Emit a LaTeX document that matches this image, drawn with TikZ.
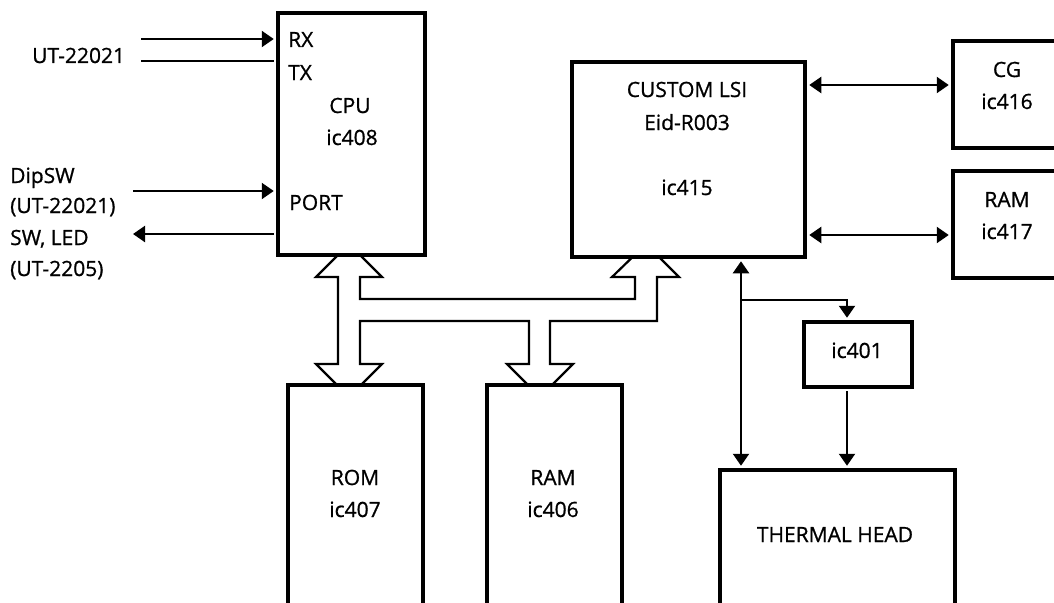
\documentclass[tikz,border=0pt]{standalone}
\usepackage{fontspec}
\setmainfont{Open Sans}[FakeBold=0.9]
\usetikzlibrary{arrows.meta}
\begin{document}
\begin{tikzpicture}[x=1pt,y=-1pt,
  box/.style={draw,line width=4.5pt,fill=white,inner sep=0pt},
  lbl/.style={inner sep=0pt,font=\fontsize{21}{25}\selectfont},
  conn/.style={line width=2.2pt,shorten >=2pt,shorten <=2pt},
  tip/.style={-{Triangle[length=12pt,width=16pt]}},
  both/.style={{Triangle[length=12pt,width=16pt]}-{Triangle[length=12pt,width=16pt]}},
  bus/.style={draw,line width=2.2pt,fill=white,line join=miter}]
\useasboundingbox (0,0) rectangle (1054,602);
\clip (0,0) rectangle (1054,602);
\fill[white] (0,0) rectangle (1054,602);

% data bus (hollow arrows)
\draw[bus] (349,244) -- (382,277) -- (360,277) -- (360,299) -- (635,299) -- (635,277)
  -- (612,277) -- (646,244) -- (679,277) -- (657,277) -- (657,321) -- (550,321)
  -- (550,364) -- (573,364) -- (540,397) -- (507,364) -- (529,364) -- (529,321)
  -- (360,321) -- (360,364) -- (382,364) -- (349,397) -- (316,364) -- (338,364)
  -- (338,277) -- (316,277) -- cycle;

% boxes
\node[box,minimum width=147pt,minimum height=242pt] (cpu) at (351.5,134) {};
\node[box,minimum width=233pt,minimum height=195pt] (lsi) at (688.5,159.5) {};
\node[box,minimum width=147pt,minimum height=107pt] (cg) at (1026.5,94.5) {};
\node[box,minimum width=147pt,minimum height=107pt] (ram417) at (1026.5,224.5) {};
\node[box,minimum width=108pt,minimum height=65pt] (ic401) at (858,354.5) {};
\node[box,minimum width=235pt,minimum height=180pt] (thermal) at (837.5,560) {};
\node[box,minimum width=135pt,minimum height=265pt] (rom) at (355.5,517.5) {};
\node[box,minimum width=135pt,minimum height=265pt] (ram406) at (554.5,517.5) {};

% CPU side signals
\coordinate (rxin) at (139,39);
\coordinate (txin) at (139,61);
\coordinate (portin) at (131,191);
\coordinate (swout) at (131,234);
\draw[conn,tip] (rxin) -- (rxin -| cpu.west);
\draw[conn] (txin) -- (txin -| cpu.west);
\draw[conn,tip] (portin) -- (portin -| cpu.west);
\draw[conn,tip] (swout -| cpu.west) -- (swout);

% LSI side signals
\coordinate (cgy) at (0,85);
\coordinate (ramy) at (0,235);
\draw[conn,both] (lsi.east |- cgy) -- (cg.west |- cgy);
\draw[conn,both] (lsi.east |- ramy) -- (ram417.west |- ramy);
\coordinate (vx) at (741,0);
\coordinate (br) at (741,300);
\coordinate (icx) at (847,0);
\draw[conn,both] (lsi.south -| vx) -- (thermal.north -| vx);
\draw[line width=2.2pt,shorten >=2pt,tip] (br) -| (ic401.north -| icx);
\draw[conn,tip] (ic401.south -| icx) -- (thermal.north -| icx);

% left labels
\node[lbl,anchor=base west] (lut) at (32,63) {UT-22021};
\node[lbl,anchor=base west] (ldip) at (10,183) {DipSW};
\node[lbl,anchor=base west] (ldipc) at (10,213) {(UT-22021)};
\node[lbl,anchor=base west] (lsw) at (10,245) {SW, LED};
\node[lbl,anchor=base west] (lswc) at (10,276) {(UT-2205)};

% CPU labels
\node[lbl,anchor=base west] (trx) at (288,47) {RX};
\node[lbl,anchor=base west] (ttx) at (288,80) {TX};
\node[lbl,anchor=base] (tcpu) at (350,113) {CPU};
\node[lbl,anchor=base] (tcpun) at (352,145) {ic408};
\node[lbl,anchor=base west] (tport) at (289,210) {PORT};

% LSI labels
\node[lbl,anchor=base] (tlsi) at (687,97) {CUSTOM LSI};
\node[lbl,anchor=base] (tlsid) at (687,130) {Eid-R003};
\node[lbl,anchor=base] (tlsin) at (687,195) {ic415};

% right boxes
\node[lbl,anchor=base] (tcg) at (1007,77) {CG};
\node[lbl,anchor=base] (tcgn) at (1007,109) {ic416};
\node[lbl,anchor=base] (tram2) at (1007,207) {RAM};
\node[lbl,anchor=base] (tram2n) at (1007,239) {ic417};

\node[lbl,anchor=base] (tic401) at (857,358) {ic401};
\node[lbl,anchor=base] (tth) at (835,542) {THERMAL HEAD};

\node[lbl,anchor=base] (trom) at (355,485) {ROM};
\node[lbl,anchor=base] (tromn) at (355,517) {ic407};
\node[lbl,anchor=base] (tram) at (553,485) {RAM};
\node[lbl,anchor=base] (tramn) at (553,517) {ic406};
\end{tikzpicture}
\end{document}
